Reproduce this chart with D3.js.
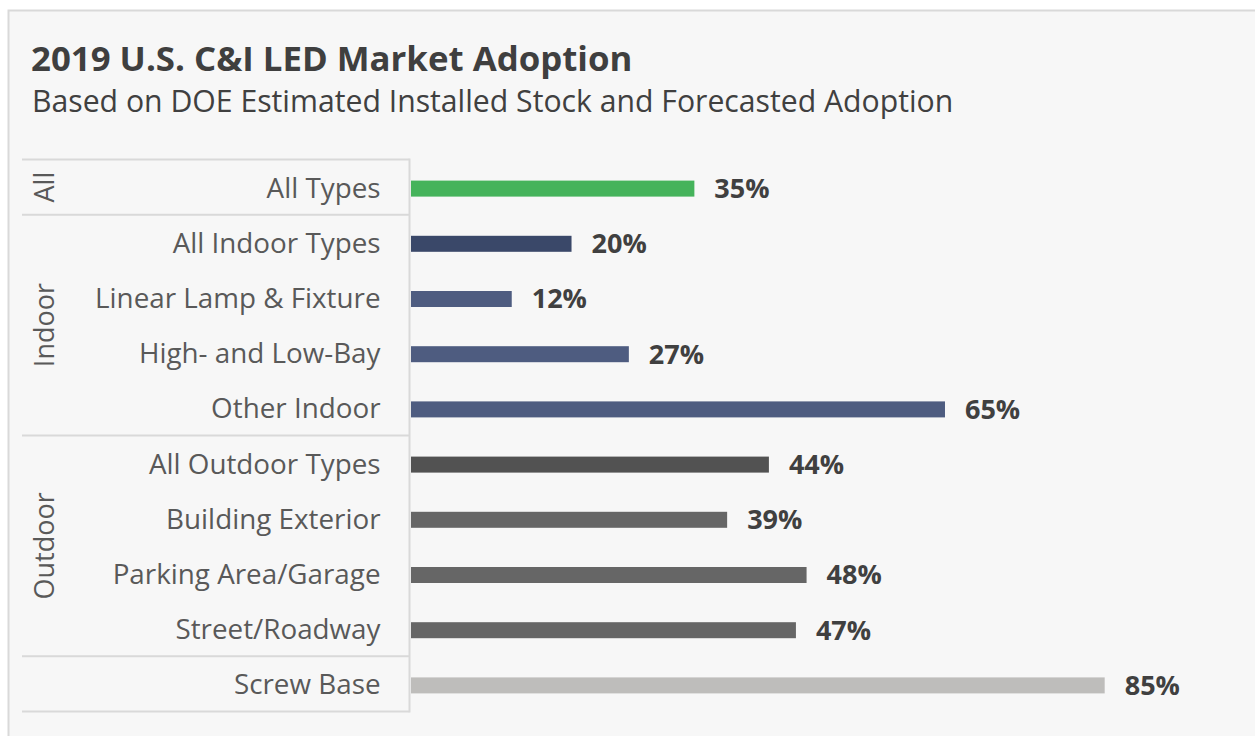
<!DOCTYPE html>
<html>
<head>
<meta charset="utf-8">
<script src="https://cdn.jsdelivr.net/npm/d3@7"></script>
<style>
  body { margin: 0; background: #ffffff; }
  svg { display: block; font-family: "Open Sans", "Noto Sans", sans-serif; }
</style>
</head>
<body>
<svg></svg>
<script>
const w = 1255;
const h = 736;

// data
const categories = ['All Types', 'All Indoor Types', 'Linear Lamp & Fixture', 'High- and Low-Bay', 'Other Indoor',
    'All Outdoor Types', 'Building Exterior', 'Parking Area/Garage', 'Street/Roadway', 'Screw Base'];
const adoption = [34.6, 19.6, 12.3, 26.6, 65.2, 43.7, 38.6, 48.3, 47.0, 84.7];
const barColors = ['#45b35b', '#3a4869', '#4e5c80', '#4e5c80', '#4e5c80',
    '#525252', '#666666', '#666666', '#666666', '#bebdbb'];
const groups = [
    { name: 'All', first: 'All Types', last: 'All Types' },
    { name: 'Indoor', first: 'All Indoor Types', last: 'Other Indoor' },
    { name: 'Outdoor', first: 'All Outdoor Types', last: 'Street/Roadway' },
    { name: '', first: 'Screw Base', last: 'Screw Base' }
];

const svg = d3.select('svg')
    .attr('width', w)
    .attr('height', h);

// chart area
svg.append('rect')
    .attr('x', 8.5)
    .attr('y', 10.5)
    .attr('width', w)
    .attr('height', h)
    .attr('fill', '#f7f7f7')
    .attr('stroke', '#d9d9d9')
    .attr('stroke-width', 2);

// titles
svg.append('text')
    .attr('x', 31)
    .attr('y', 71)
    .attr('font-size', 34.8)
    .attr('font-weight', 700)
    .attr('fill', '#3f3f3f')
    .text('2019 U.S. C&I LED Market Adoption');

svg.append('text')
    .attr('x', 32)
    .attr('y', 112)
    .attr('font-size', 30.2)
    .attr('fill', '#404040')
    .text('Based on DOE Estimated Installed Stock and Forecasted Adoption');

// scales
const axisX = 409.5;
const xScale = d3.scaleLinear()
    .domain([0, 100])
    .range([axisX + 1.5, axisX + 1.5 + 819]);

const yScale = d3.scaleBand()
    .domain(categories)
    .range([159.5, 711.5]);

const barH = 16;
const colorScale = d3.scaleOrdinal().domain(categories).range(barColors);
const data = categories.map((c, i) => ({ cat: c, val: adoption[i] }));

// category labels
const yAxis = d3.axisLeft(yScale).tickSize(0).tickPadding(29);
const gy = svg.append('g')
    .attr('transform', 'translate(' + axisX + ',1.5)')
    .call(yAxis);
gy.select('.domain').remove();
gy.selectAll('text')
    .attr('font-size', 27.8)
    .attr('font-family', '"Open Sans", sans-serif')
    .attr('fill', '#595959');

// group separators
const lineColor = '#d9d9d9';
const bounds = [yScale.range()[0]].concat(groups.map(g => yScale(g.last) + yScale.bandwidth()));
svg.selectAll('line.sep')
    .data(bounds)
    .enter()
    .append('line')
    .attr('class', 'sep')
    .attr('x1', 22)
    .attr('x2', axisX)
    .attr('y1', d => d)
    .attr('y2', d => d)
    .attr('stroke', lineColor)
    .attr('stroke-width', 2);

svg.append('line')
    .attr('x1', axisX)
    .attr('x2', axisX)
    .attr('y1', yScale.range()[0] - 1)
    .attr('y2', yScale.range()[1] + 1)
    .attr('stroke', lineColor)
    .attr('stroke-width', 2);

// group labels
svg.selectAll('text.group')
    .data(groups.filter(g => g.name))
    .enter()
    .append('text')
    .attr('class', 'group')
    .attr('transform', g => {
        const cy = (yScale(g.first) + yScale(g.last) + yScale.bandwidth()) / 2;
        return 'translate(45,' + cy + ') rotate(-90)';
    })
    .attr('text-anchor', 'middle')
    .attr('dy', '0.35em')
    .attr('font-size', 27)
    .attr('fill', '#595959')
    .text(g => g.name);

// bars
svg.selectAll('rect.bar')
    .data(data)
    .enter()
    .append('rect')
    .attr('class', 'bar')
    .attr('x', xScale(0))
    .attr('y', d => yScale(d.cat) + (yScale.bandwidth() - barH) / 2 + 1.5)
    .attr('width', d => xScale(d.val) - xScale(0))
    .attr('height', barH)
    .attr('fill', d => colorScale(d.cat));

// value labels
svg.selectAll('text.val')
    .data(data)
    .enter()
    .append('text')
    .attr('class', 'val')
    .attr('x', d => xScale(d.val) + 20)
    .attr('y', d => yScale(d.cat) + yScale.bandwidth() / 2 + 1.5)
    .attr('dy', '0.35em')
    .attr('font-size', 27)
    .attr('font-weight', 700)
    .attr('fill', '#404040')
    .text(d => Math.round(d.val) + '%');
</script>
</body>
</html>
